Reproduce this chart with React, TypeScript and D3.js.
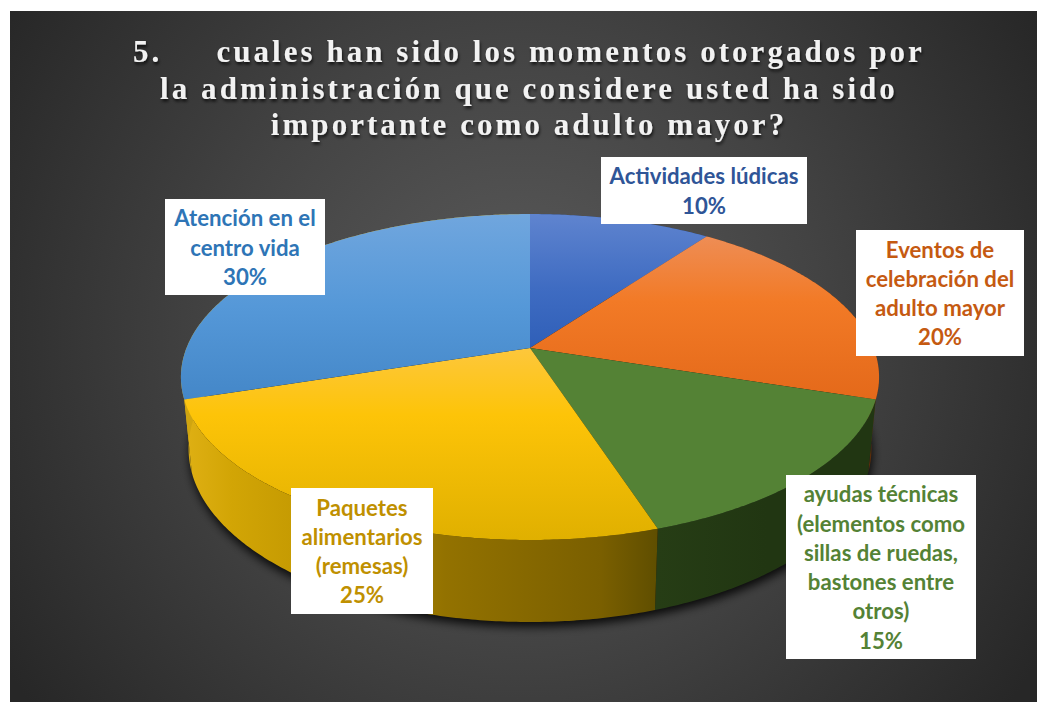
import React from "react";
import * as d3 from "d3";

const categories = ["Actividades lúdicas", "Eventos de celebración del adulto mayor", "ayudas técnicas (elementos como sillas de ruedas, bastones entre otros)", "Paquetes alimentarios (remesas)", "Atención en el centro vida"];
const values = [10, 20, 15, 25, 30];
const labelLines = [
  ["Actividades lúdicas", "10%"],
  ["Eventos de", "celebración del", "adulto mayor", "20%"],
  ["ayudas técnicas", "(elementos como", "sillas de ruedas,", "bastones entre", "otros)", "15%"],
  ["Paquetes", "alimentarios", "(remesas)", "25%"],
  ["Atención en el", "centro vida", "30%"],
];
const titleLines = [
  "5.\u00A0\u00A0\u00A0\u00A0\u00A0cuales han sido los momentos otorgados por",
  "la administración que considere usted ha sido",
  "importante como adulto mayor?",
];

const W = 1037, H = 702;
const labelColors = ["#2f5597", "#c55a11", "#548235", "#bf9000", "#2e75b6"];
const topStops: [number, string][][] = [
  [[0, "#5f84cf"], [0.55, "#3f6cc2"], [1, "#2f5fb8"]],
  [[0, "#ee8d55"], [0.4, "#f27a26"], [1, "#e4691a"]],
  [[0, "#548235"], [1, "#548235"]],
  [[0, "#fdc73c"], [0.35, "#fdc408"], [1, "#e0b000"]],
  [[0, "#70a6de"], [0.5, "#5598d8"], [1, "#4487c8"]],
];
const wallStops: [number, string][][] = [
  [[0, "#2a4478"], [1, "#2a4478"]],
  [[0, "#6a3510"], [1, "#5a2c0a"]],
  [[0, "#263d15"], [0.5, "#213612"], [1, "#213612"]],
  [[0, "#dfb014"], [0.1, "#d2a505"], [0.32, "#bd9400"], [0.55, "#937200"], [0.88, "#7a5f00"], [1, "#5f4e00"]],
  [[0, "#d0a510"], [1, "#d0a510"]],
];
const boxes = [
  { x: 601, y: 157, w: 206, h: 67 },
  { x: 856, y: 230, w: 168, h: 126 },
  { x: 786, y: 475, w: 190, h: 184 },
  { x: 291, y: 488, w: 142, h: 126 },
  { x: 165, y: 199, w: 160, h: 96 },
];

const persp = 0.178;
const topDisc = { cx: 530, cy: 348, a: 343.5, b: 157.8 };
const lowDisc = { cx: 530, cy: 418, a: 336, b: 167.7 };

function project(disc: typeof topDisc, angle: number, r = 1): [number, number] {
  const x = Math.sin(angle) * r;
  const y = -Math.cos(angle) * r;
  const w = 1 - persp * y;
  return [disc.cx + (disc.a * x) / w, disc.cy + (disc.b * y) / w];
}

const arcs = d3.pie<number>().sort(null)(values);
const line = d3.line();
const samples = (a0: number, a1: number) => {
  const n = Math.max(2, Math.ceil((a1 - a0) / 0.01));
  return d3.range(n + 1).map((i) => a0 + ((a1 - a0) * i) / n);
};
const topPath = (a0: number, a1: number) =>
  line([[topDisc.cx, topDisc.cy], ...samples(a0, a1).map((a) => project(topDisc, a))]) + "Z";
const wallPath = (a0: number, a1: number) => {
  const s = samples(a0, a1);
  return line([...s.map((a) => project(topDisc, a)), ...s.slice().reverse().map((a) => project(lowDisc, a))]) + "Z";
};
const lowPath = line(samples(0, Math.PI * 2).map((a) => project(lowDisc, a))) + "Z";

function bounds(a0: number, a1: number, withCenter: boolean) {
  const pts = samples(a0, a1).map((a) => project(topDisc, a));
  if (withCenter) pts.push([topDisc.cx, topDisc.cy]);
  return { x: d3.extent(pts, (p) => p[0]) as [number, number], y: d3.extent(pts, (p) => p[1]) as [number, number] };
}

export default function App() {
  return (
    <svg width={W} height={H} viewBox={`0 0 ${W} ${H}`} style={{ position: "absolute", left: 0, top: 0, background: "#fff" }}>
      <defs>
        <radialGradient id="bg" gradientUnits="userSpaceOnUse" cx={520} cy={340} r={610}>
          <stop offset="0" stopColor="#5c5c5c" />
          <stop offset="0.5" stopColor="#434343" />
          <stop offset="1" stopColor="#272727" />
        </radialGradient>
        <filter id="shadow" x="-10%" y="-10%" width="120%" height="120%">
          <feGaussianBlur stdDeviation="5" />
        </filter>
        <filter id="titleShadow" x="-5%" y="-20%" width="110%" height="150%">
          <feDropShadow dx="1" dy="2.5" stdDeviation="1.5" floodColor="#000" floodOpacity="0.7" />
        </filter>
        {arcs.map((d, i) => {
          const b = bounds(d.startAngle, d.endAngle, true);
          const w = bounds(d.startAngle, d.endAngle, false);
          return (
            <React.Fragment key={i}>
              <linearGradient id={`top${i}`} gradientUnits="userSpaceOnUse" x1={0} x2={0} y1={b.y[0]} y2={b.y[1]}>
                {topStops[i].map(([o, c]) => <stop key={o} offset={o} stopColor={c} />)}
              </linearGradient>
              <linearGradient id={`wall${i}`} gradientUnits="userSpaceOnUse" x1={w.x[0]} x2={w.x[1]} y1={0} y2={0}>
                {wallStops[i].map(([o, c]) => <stop key={o} offset={o} stopColor={c} />)}
              </linearGradient>
            </React.Fragment>
          );
        })}
      </defs>

      <rect x={10} y={11} width={W - 10} height={H - 11} fill="url(#bg)" />

      <g transform="translate(1,5)" filter="url(#shadow)">
        <path d={lowPath} fill="#000" fillOpacity={0.85} />
      </g>

      {arcs.map((d, i) => (
        <path key={`w${i}`} d={wallPath(d.startAngle, d.endAngle)} fill={`url(#wall${i})`} />
      ))}
      {arcs.map((d, i) => (
        <path key={`t${i}`} d={topPath(d.startAngle, d.endAngle)} fill={`url(#top${i})`} data-name={categories[i]} />
      ))}

      <g filter="url(#titleShadow)" fontFamily="'Liberation Serif', serif" fontWeight="bold" fontSize={31} letterSpacing={3.05} fill="#f2f2f2" textAnchor="middle">
        {titleLines.map((t, i) => (
          <text key={i} x={529} y={62 + i * 36.5}>{t}</text>
        ))}
      </g>

      {boxes.map((b, i) => {
        const lines = labelLines[i];
        const lh = 29.3;
        const y0 = b.y + b.h / 2 - (lines.length * lh) / 2 + lh / 2 + 8.5;
        return (
          <g key={i}>
            <rect x={b.x} y={b.y} width={b.w} height={b.h} fill="#fff" />
            <text fontFamily="Lato, sans-serif" fontWeight="bold" fontSize={22.2} fill={labelColors[i]} textAnchor="middle">
              {lines.map((l, j) => (
                <tspan key={j} x={b.x + b.w / 2} y={y0 + j * lh}>{l}</tspan>
              ))}
            </text>
          </g>
        );
      })}
    </svg>
  );
}
